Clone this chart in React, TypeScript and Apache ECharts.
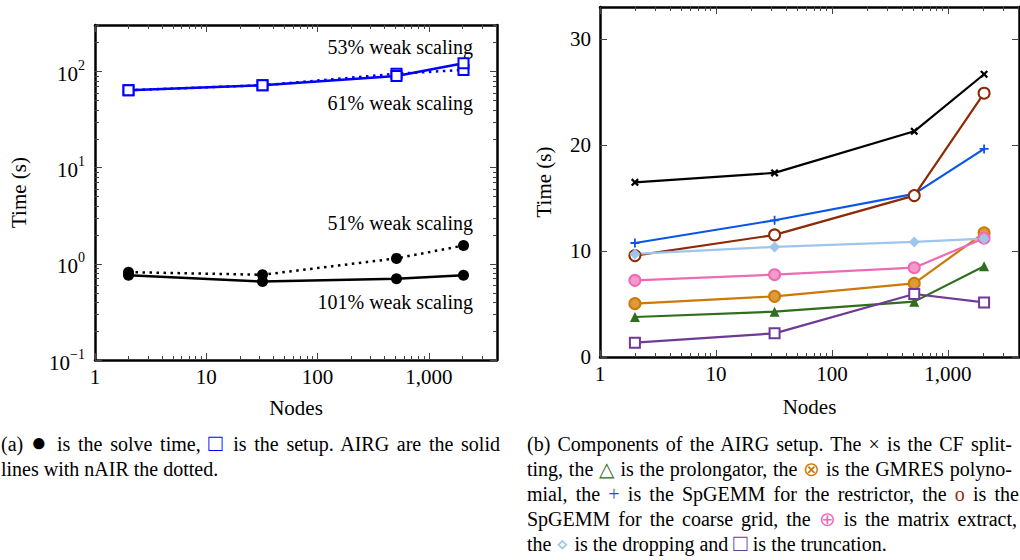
import React, { useEffect, useRef } from 'react';
import * as echarts from 'echarts';

// ---------- data ----------
const nodes = [2, 32, 512, 2048];

// (a) solve / setup times (s)
const setupAIRG = [64, 72, 90, 122];
const setupNAIR = [64, 72, 95, 104];
const solveAIRG = [0.76, 0.655, 0.7, 0.76];
const solveNAIR = [0.82, 0.77, 1.14, 1.55];

// (b) AIRG setup components (s)
const cfSplitting = [16.47, 17.36, 21.28, 26.66];
const spgemmRestrictor = [10.75, 12.89, 15.38, 19.62];
const spgemmCoarse = [9.56, 11.51, 15.22, 24.87];
const prolongator = [3.77, 4.27, 5.22, 8.55];
const gmresPoly = [5.03, 5.72, 6.94, 11.7];
const truncation = [1.35, 2.23, 5.94, 5.15];
const matrixExtract = [7.23, 7.76, 8.42, 11.2];
const dropping = [9.72, 10.38, 10.85, 11.16];

// ticks
const xMajor = [1, 10, 100, 1000];
const xMinor = [2, 3, 4, 5, 6, 7, 8, 9, 20, 30, 40, 50, 60, 70, 80, 90, 200, 300, 400, 500, 600, 700, 800, 900, 2000, 3000, 4000];
const yLogMajor = [0.1, 1, 10, 100];
const yLogMinor = [0.2, 0.3, 0.4, 0.5, 0.6, 0.7, 0.8, 0.9, 2, 3, 4, 5, 6, 7, 8, 9, 20, 30, 40, 50, 60, 70, 80, 90, 200, 300];
const yLinTicks = [0, 10, 20, 30];

const annotations = ['53% weak scaling', '61% weak scaling', '51% weak scaling', '101% weak scaling'];

const FONT = '"Liberation Serif", "Times New Roman", serif';
const TICK = { color: '#444', width: 1 };
const FRAME = { color: '#000', width: 2.5 };

const CROSS = 'path://M0,2 L2,0 L5,3 L8,0 L10,2 L7,5 L10,8 L8,10 L5,7 L2,10 L0,8 L3,5 Z';
const PLUS = 'path://M4,0 L6,0 L6,4 L10,4 L10,6 L6,6 L6,10 L4,10 L4,6 L0,6 L0,4 L4,4 Z';

function xLog(gridIndex: number, position: 'top' | 'bottom', ticks: number[], len: number, main: boolean, labels: boolean) {
  return {
    type: 'log', logBase: 10, gridIndex, position, min: 1, max: 4096,
    axisLine: { show: main, onZero: false, lineStyle: FRAME },
    axisTick: { show: true, inside: true, length: len, customValues: ticks, lineStyle: TICK },
    axisLabel: labels
      ? {
          show: true, customValues: xMajor, margin: 6, fontSize: 21, fontFamily: FONT, color: '#000',
          formatter: (v: number) => Math.round(v).toLocaleString('en-US'),
        }
      : { show: false },
    splitLine: { show: false },
    minorTick: { show: false },
    name: labels ? 'Nodes' : '',
    nameLocation: 'middle',
    nameGap: gridIndex === 0 ? 37 : 39,
    nameTextStyle: { fontSize: 21, fontFamily: FONT, color: '#000' },
  };
}

function yLog(position: 'left' | 'right', ticks: number[], len: number, main: boolean, labels: boolean) {
  return {
    type: 'log', logBase: 10, gridIndex: 0, position, min: 0.1, max: 305,
    axisLine: { show: main, onZero: false, lineStyle: FRAME },
    axisTick: { show: true, inside: true, length: len, customValues: ticks, lineStyle: TICK },
    axisLabel: labels
      ? {
          show: true, customValues: yLogMajor, margin: 10, color: '#000',
          formatter: (v: number) => {
            const e = Math.round(Math.log10(v));
            return '{b|10}{s|' + (e < 0 ? '\u2212' + -e : String(e)) + '}';
          },
          rich: {
            b: { fontSize: 21, fontFamily: FONT, color: '#000', lineHeight: 26, verticalAlign: 'bottom' },
            s: { fontSize: 14, fontFamily: FONT, color: '#000', lineHeight: 26, verticalAlign: 'top' },
          },
        }
      : { show: false },
    splitLine: { show: false },
    name: labels ? 'Time (s)' : '',
    nameLocation: 'middle',
    nameGap: 66,
    nameTextStyle: { fontSize: 21, fontFamily: FONT, color: '#000' },
  };
}

function yLin(position: 'left' | 'right', labels: boolean) {
  return {
    type: 'value', gridIndex: 1, position, min: 0, max: 33, interval: 10,
    axisLine: { show: true, onZero: false, lineStyle: FRAME },
    axisTick: { show: true, inside: true, length: 7, customValues: yLinTicks, lineStyle: TICK },
    axisLabel: labels
      ? { show: true, customValues: yLinTicks, margin: 9, fontSize: 21, fontFamily: FONT, color: '#000' }
      : { show: false },
    splitLine: { show: false },
    name: labels ? 'Time (s)' : '',
    nameLocation: 'middle',
    nameGap: 46,
    nameTextStyle: { fontSize: 21, fontFamily: FONT, color: '#000' },
  };
}

const pairs = (vals: number[]) => nodes.map((n, i) => [n, vals[i]]);

function rightSeries(name: string, vals: number[], color: string, symbol: string, size: number, itemStyle: any) {
  return {
    name, type: 'line', xAxisIndex: 4, yAxisIndex: 4, data: pairs(vals),
    lineStyle: { color, width: 2.2 }, symbol, symbolSize: size,
    itemStyle: { color, ...itemStyle }, emphasis: { disabled: true }, z: 3,
  };
}

export default function App() {
  const ref = useRef<HTMLDivElement>(null);
  useEffect(() => {
    if (!ref.current) return;
    const chart = echarts.init(ref.current, undefined, { renderer: 'svg' });
    const dotted = [2.5, 4.5];
    const annY = [47, 103, 223, 302];
    chart.setOption({
      animation: false,
      grid: [
        { left: 95, top: 25, width: 402, height: 335 },
        { left: 600, top: 7, width: 419, height: 350 },
      ],
      xAxis: [
        xLog(0, 'bottom', xMajor, 7, true, true),
        xLog(0, 'top', xMajor, 7, true, false),
        xLog(0, 'bottom', xMinor, 4, false, false),
        xLog(0, 'top', xMinor, 4, false, false),
        xLog(1, 'bottom', xMajor, 7, true, true),
        xLog(1, 'top', xMajor, 7, true, false),
        xLog(1, 'bottom', xMinor, 4, false, false),
        xLog(1, 'top', xMinor, 4, false, false),
      ],
      yAxis: [
        yLog('left', yLogMajor, 7, true, true),
        yLog('right', yLogMajor, 7, true, false),
        yLog('left', yLogMinor, 4, false, false),
        yLog('right', yLogMinor, 4, false, false),
        yLin('left', true),
        yLin('right', false),
      ],
      series: [
        {
          name: 'setup nAIR', type: 'line', xAxisIndex: 0, yAxisIndex: 0, data: pairs(setupNAIR),
          lineStyle: { color: '#0000ff', width: 2.5, type: dotted }, symbol: 'emptyRect', symbolSize: 10,
          itemStyle: { color: '#0000ff', borderWidth: 2.5 }, emphasis: { disabled: true },
        },
        {
          name: 'setup AIRG', type: 'line', xAxisIndex: 0, yAxisIndex: 0, data: pairs(setupAIRG),
          lineStyle: { color: '#0000ff', width: 2.5 }, symbol: 'emptyRect', symbolSize: 10,
          itemStyle: { color: '#0000ff', borderWidth: 2.5 }, emphasis: { disabled: true },
        },
        {
          name: 'solve nAIR', type: 'line', xAxisIndex: 0, yAxisIndex: 0, data: pairs(solveNAIR),
          lineStyle: { color: '#000', width: 2.5, type: dotted }, symbol: 'circle', symbolSize: 11,
          itemStyle: { color: '#000' }, emphasis: { disabled: true },
        },
        {
          name: 'solve AIRG', type: 'line', xAxisIndex: 0, yAxisIndex: 0, data: pairs(solveAIRG),
          lineStyle: { color: '#000', width: 2.5 }, symbol: 'circle', symbolSize: 11,
          itemStyle: { color: '#000' }, emphasis: { disabled: true },
        },
        rightSeries('CF splitting', cfSplitting, '#000000', CROSS, 8, {}),
        rightSeries('SpGEMM restrictor', spgemmRestrictor, '#0a55e8', PLUS, 9, {}),
        rightSeries('SpGEMM coarse grid', spgemmCoarse, '#8b2a05', 'emptyCircle', 11, { borderWidth: 2.5 }),
        rightSeries('prolongator', prolongator, '#2f6e1c', 'triangle', 10, {}),
        rightSeries('GMRES polynomial', gmresPoly, '#cc7a05', 'circle', 11, { color: '#dd9a3a', borderColor: '#cc7a05', borderWidth: 2 }),
        rightSeries('truncation', truncation, '#6e3a96', 'emptyRect', 10, { borderWidth: 2.5 }),
        rightSeries('matrix extract', matrixExtract, '#ee6ab6', 'circle', 11, { color: '#f39acb', borderColor: '#ee6ab6', borderWidth: 2 }),
        rightSeries('dropping', dropping, '#9ec6ec', 'diamond', 11, {}),
      ],
      graphic: annotations.map((t, i) => ({
        type: 'text', x: 473, y: annY[i], silent: true,
        style: {
          text: t, fill: '#000', font: '20px ' + FONT,
          align: 'right', verticalAlign: 'middle', textAlign: 'right', textVerticalAlign: 'middle',
        },
      })),
    });
    return () => chart.dispose();
  }, []);

  const cap: React.CSSProperties = { position: 'absolute', fontFamily: FONT, fontSize: 20, lineHeight: '25px', color: '#000', whiteSpace: 'nowrap' };
  const just = (w: number): React.CSSProperties => ({ width: w, textAlign: 'justify', textAlignLast: 'justify' as any, whiteSpace: 'normal' });
  const sym = (color: string, size = 20): React.CSSProperties => ({ color, fontSize: size, lineHeight: 0 });

  return (
    <div style={{ position: 'fixed', left: 0, top: 0, width: 1020, height: 560, overflow: 'hidden', background: '#fff' }}>
      <div ref={ref} style={{ position: 'absolute', left: 0, top: 0, width: 1020, height: 430 }} />
      <div style={{ ...cap, left: 1, top: 432 }}>
        <div style={just(499)}>(a) <span style={sym('#000', 26)}>●</span> is the solve time, <span style={sym('#0000ff', 24)}>□</span> is the setup. AIRG are the solid</div>
        <div>lines with nAIR the dotted.</div>
      </div>
      <div style={{ ...cap, left: 527, top: 432 }}>
        <div style={just(485)}>(b) Components of the AIRG setup. The × is the CF split-</div>
        <div style={just(485)}>ting, the <span style={sym('#2f6e1c')}>△</span> is the prolongator, the <span style={sym('#cc7a05')}>⊗</span> is the GMRES polyno-</div>
        <div style={just(492)}>mial, the <span style={sym('#0a55e8')}>+</span> is the SpGEMM for the restrictor, the <span style={sym('#8b2a05')}>o</span> is the</div>
        <div style={just(490)}>SpGEMM for the coarse grid, the <span style={sym('#ee6ab6')}>⊕</span> is the matrix extract,</div>
        <div>the <span style={sym('#9ec6ec')}>⋄</span> is the dropping and <span style={sym('#6e3a96', 24)}>□</span> is the truncation.</div>
      </div>
    </div>
  );
}
